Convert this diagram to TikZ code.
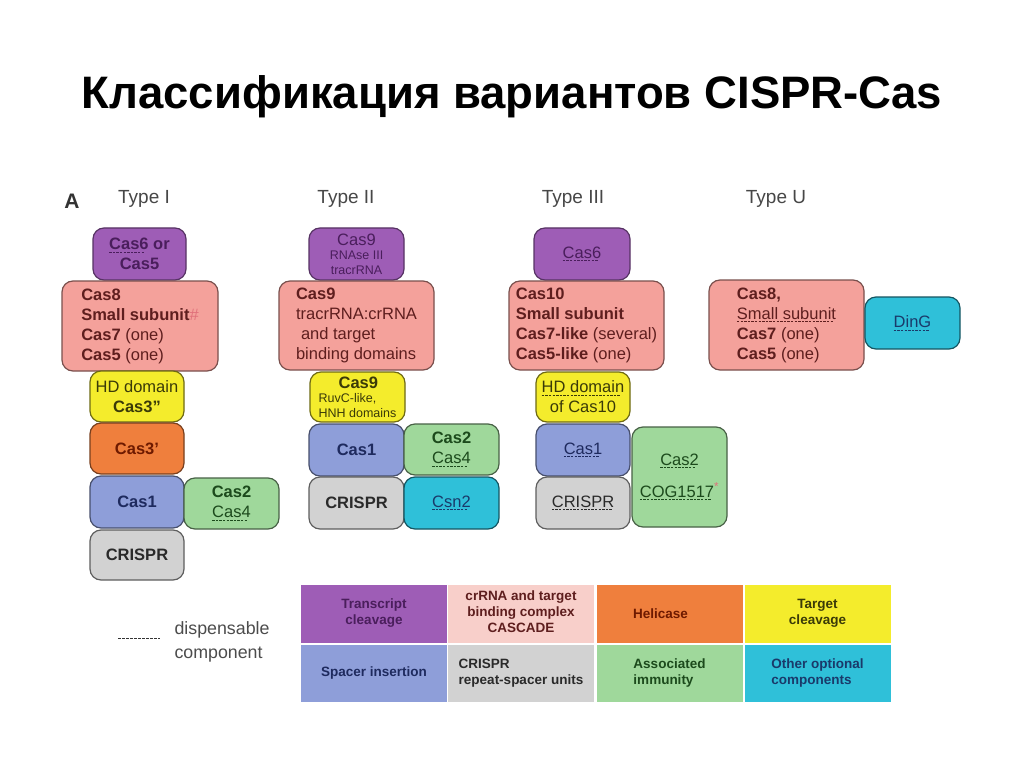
\documentclass[tikz,border=0pt]{standalone}
\usepackage{fontspec}
\setmainfont{Liberation Sans}
\definecolor{cPurp}{HTML}{9E5DB6}
\definecolor{cPink}{HTML}{F4A19B}
\definecolor{cPinkL}{HTML}{F8CFCA}
\definecolor{cYel}{HTML}{F4EC2C}
\definecolor{cOra}{HTML}{EF7F3D}
\definecolor{cBlue}{HTML}{8E9ED9}
\definecolor{cGreen}{HTML}{9FD89B}
\definecolor{cGray}{HTML}{D2D2D2}
\definecolor{cCyan}{HTML}{2FC0D9}
\definecolor{tPurp}{HTML}{4A1E5C}
\definecolor{tPink}{HTML}{5E1E1E}
\definecolor{tYel}{HTML}{3A3A08}
\definecolor{tOra}{HTML}{6E1A00}
\definecolor{tBlue}{HTML}{1E2A5E}
\definecolor{tGreen}{HTML}{1C4A1C}
\definecolor{tGray}{HTML}{2A2A2A}
\definecolor{tCyan}{HTML}{1A3A6A}
\definecolor{cMark}{HTML}{E0707A}
\newcommand\du[1]{\leavevmode\setbox0\hbox{#1}\rlap{\hbox to \wd0{\leaders\hbox{\rule[-3pt]{2.4pt}{0.8pt}\kern1.2pt}\hfill}}\box0\relax}
\newcommand\sm{\fontsize{12.5}{14}\selectfont}
\begin{document}
\begin{tikzpicture}[x=1pt,y=-1pt,
  box/.style={rounded corners=11pt, line width=1.2pt, align=center, inner sep=0pt,
    font=\fontsize{16.5}{20}\selectfont},
  purp/.style={box, fill=cPurp, draw=cPurp!55!black, text=tPurp},
  pink/.style={box, fill=cPink, draw=cPink!50!black, text=tPink, align=left},
  yel/.style={box, fill=cYel, draw=cYel!45!black, text=tYel},
  ora/.style={box, fill=cOra, draw=cOra!50!black, text=tOra},
  blu/.style={box, fill=cBlue, draw=cBlue!50!black, text=tBlue},
  grn/.style={box, fill=cGreen, draw=cGreen!45!black, text=tGreen},
  gry/.style={box, fill=cGray, draw=cGray!45!black, text=tGray},
  cyn/.style={box, fill=cCyan, draw=cCyan!45!black, text=tCyan},
  cell/.style={inner sep=0pt, minimum width=146, minimum height=58,
    font=\fontsize{13.5}{16}\selectfont\bfseries},
  typelab/.style={text=black!72, font=\fontsize{19}{22}\selectfont}
]
\useasboundingbox (0,0) rectangle (1024,767);
\fill[white] (0,0) rectangle (1024,767);

\node[font=\fontsize{45.5}{50}\selectfont\bfseries] (title) at (512,97) {Классификация вариантов CISPR-Cas};

\node[font=\fontsize{21}{24}\selectfont\bfseries, text=black!80] (A) at (72,201) {A};
\node[typelab] (ty1) at (144,199) {Type I};
\node[typelab] (ty2) at (346,199) {Type II};
\node[typelab] (ty3) at (573,199) {Type III};
\node[typelab] (tyU) at (776,199) {Type U};

% Type I
\node[purp, minimum width=93, minimum height=52] (t1a) at (139.5,254) {\textbf{\du{Cas6} or}\\\textbf{Cas5}};
\node[pink, minimum width=156, minimum height=90] (t1b) at (140,326) {\textbf{Cas8}\\\textbf{Small subunit}{\color{cMark}\#}\\\textbf{Cas7} (one)\\\textbf{Cas5} (one)};
\node[yel, minimum width=94, minimum height=51] (t1c) at (137,396.5) {HD domain\\\textbf{Cas3"}};
\node[ora, minimum width=94, minimum height=51] (t1d) at (137,448.5) {\textbf{Cas3'}};
\node[blu, minimum width=94, minimum height=52] (t1e) at (137,502) {\textbf{Cas1}};
\node[grn, minimum width=95, minimum height=51] (t1f) at (231.5,503.5) {\textbf{Cas2}\\\du{Cas4}};
\node[gry, minimum width=94, minimum height=50] (t1g) at (137,555) {\textbf{CRISPR}};

% Type II
\node[purp, minimum width=95, minimum height=52] (t2a) at (356.5,254) {Cas9\\[-6pt]{\sm RNAse III}\\[-5pt]{\sm tracrRNA}};
\node[pink, minimum width=155, minimum height=89] (t2b) at (356.5,325.5) {\textbf{Cas9}\\tracrRNA:crRNA\\\hspace*{5pt}and target\\binding domains};
\node[yel, minimum width=95, minimum height=50, align=left] (t2c) at (357.5,397) {\hspace*{20pt}\textbf{Cas9}\\[-6pt]{\sm RuvC-like,}\\[-5pt]{\sm HNH domains}};
\node[blu, minimum width=95, minimum height=52] (t2d) at (356.5,450) {\textbf{Cas1}};
\node[grn, minimum width=95, minimum height=51] (t2e) at (451.5,449.5) {\textbf{Cas2}\\\du{Cas4}};
\node[gry, minimum width=95, minimum height=52] (t2f) at (356.5,503) {\textbf{CRISPR}};
\node[cyn, minimum width=95, minimum height=52] (t2g) at (451.5,503) {\du{Csn2}};

% Type III
\node[purp, minimum width=96, minimum height=52] (t3a) at (582,254) {\du{Cas6}};
\node[pink, minimum width=155, minimum height=89] (t3b) at (586.5,325.5) {\textbf{Cas10}\\\textbf{Small subunit}\\\textbf{Cas7-like} (several)\\\textbf{Cas5-like} (one)};
\node[yel, minimum width=94, minimum height=50] (t3c) at (583,397) {\du{HD domain}\\of Cas10};
\node[blu, minimum width=94, minimum height=52] (t3d) at (583,450) {\du{Cas1}};
\node[gry, minimum width=94, minimum height=52] (t3e) at (583,503) {\du{CRISPR}};
\node[grn, minimum width=95, minimum height=100] (t3f) at (679.5,477) {\du{Cas2}\\[12pt]\du{COG1517}{\color{cMark}\textsuperscript{*}}};

% Type U
\node[pink, minimum width=155, minimum height=90] (tua) at (786.5,325) {\textbf{Cas8,}\\\du{Small subunit}\\\textbf{Cas7} (one)\\\textbf{Cas5} (one)};
\node[cyn, minimum width=95, minimum height=52] (tub) at (912.5,323) {\du{DinG}};

% legend
\coordinate (dl1) at (118,638);
\coordinate (dl2) at (160,638);
\draw[dash pattern=on 2.5pt off 1.5pt, line width=0.9pt, black!80] (dl1) -- (dl2);
\node[anchor=west, align=left, text=black!70, font=\fontsize{17.8}{24}\selectfont] (disp) at (171,642) {dispensable\\component};

\node[cell, fill=cPurp, text=tPurp] (l1) at (374,613.5) {\begin{tabular}{@{}c@{}}Transcript\\cleavage\end{tabular}};
\node[cell, fill=cPinkL, text=tPink] (l2) at (521,613.5) {\begin{tabular}{@{}c@{}}crRNA and target\\binding complex\\CASCADE\end{tabular}};
\node[cell, fill=cOra, text=tOra] (l3) at (669.5,613.5) {Helicase\hspace*{18pt}};
\node[cell, fill=cYel, text=tYel] (l4) at (817.5,613.5) {\begin{tabular}{@{}c@{}}Target\\cleavage\end{tabular}};
\node[cell, fill=cBlue, text=tBlue, minimum height=57] (l5) at (374,673.5) {Spacer insertion};
\node[cell, fill=cGray, text=tGray, minimum height=57] (l6) at (521,673.5) {\begin{tabular}{@{}l@{}}CRISPR\\repeat-spacer units\end{tabular}};
\node[cell, fill=cGreen, text=tGreen, minimum height=57] (l7) at (669.5,673.5) {\begin{tabular}{@{}l@{}}Associated\\immunity\end{tabular}};
\node[cell, fill=cCyan, text=tCyan, minimum height=57] (l8) at (817.5,673.5) {\begin{tabular}{@{}l@{}}Other optional\\components\end{tabular}};
\end{tikzpicture}
\end{document}
